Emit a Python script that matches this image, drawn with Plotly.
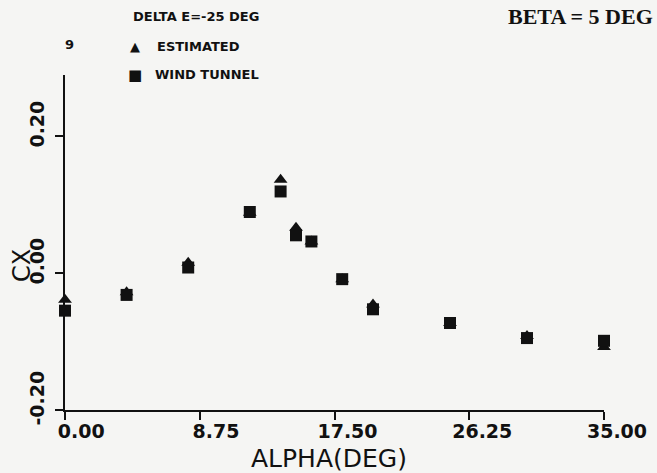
import plotly.graph_objects as go

# ---- data ----
alpha_est = [0, 4, 8, 12, 14, 15, 16, 18, 20, 25, 30, 35]
cx_est = [-0.039, -0.028, 0.015, 0.088, 0.136, 0.066, 0.046, -0.009, -0.046, -0.073, -0.092, -0.108]

alpha_wt = [0, 4, 8, 12, 14, 15, 16, 18, 20, 25, 30, 35]
cx_wt = [-0.055, -0.032, 0.008, 0.089, 0.119, 0.055, 0.046, -0.009, -0.053, -0.073, -0.095, -0.099]

x_tickvals = [0.0, 8.75, 17.5, 26.25, 35.0]
x_ticktext = ["\u00a00.00", "\u00a08.75", "17.50", "26.25", "35.00"]
y_tickvals = [-0.2, 0.0, 0.2]
y_ticktext = ["-0.20", "0.00", "0.20"]

bg = "#f5f5f3"
ink = "#111111"
font_main = "DejaVu Sans"

L, R, T, B = 65, 53, 75, 63
W, H = 657, 473
PW, PH = W - L - R, H - T - B


def px(xp):
    return (xp - L) / PW


def py(yp):
    return (H - B - yp) / PH


fig = go.Figure()
fig.add_trace(go.Scatter(
    x=alpha_est, y=cx_est, mode="markers", name="ESTIMATED",
    marker=dict(symbol="triangle-up", size=12, color=ink, line=dict(width=0)),
    cliponaxis=False, showlegend=False))
fig.add_trace(go.Scatter(
    x=alpha_wt, y=cx_wt, mode="markers", name="WIND TUNNEL",
    marker=dict(symbol="square", size=12, color=ink, line=dict(width=0)),
    cliponaxis=False, showlegend=False))

fig.update_layout(
    width=W, height=H,
    margin=dict(l=L, r=R, t=T, b=B, autoexpand=False),
    paper_bgcolor=bg, plot_bgcolor=bg,
    showlegend=False,
    xaxis=dict(
        range=[0, 35], showgrid=False, zeroline=False, automargin=False,
        showline=True, linecolor=ink, linewidth=2,
        ticks="outside", ticklen=8, tickwidth=2, tickcolor=ink,
        tickvals=x_tickvals, ticktext=x_ticktext,
        tickfont=dict(family=font_main, size=19, color=ink, weight="bold"),
        ticklabelshift=13, ticklabelstandoff=-5,
    ),
    yaxis=dict(
        range=[-0.2, 0.289], showgrid=False, zeroline=False, automargin=False,
        showline=True, linecolor=ink, linewidth=2,
        ticks="outside", ticklen=8, tickwidth=2, tickcolor=ink,
        tickvals=y_tickvals, ticktext=y_ticktext, tickangle=-90,
        tickfont=dict(family=font_main, size=19, color=ink, weight="bold"),
        ticklabelshift=-9, ticklabelstandoff=3,
    ),
    annotations=[
        dict(text="ALPHA(DEG)", xref="paper", yref="paper",
             x=px(329), y=py(458), xanchor="center", yanchor="middle",
             showarrow=False, font=dict(family=font_main, size=25, color=ink)),
        dict(text="CX", textangle=-90, xref="paper", yref="paper",
             x=px(22), y=py(266), xanchor="center", yanchor="middle",
             showarrow=False, font=dict(family=font_main, size=24, color=ink)),
        dict(text="<b>DELTA E=-25 DEG</b>", xref="paper", yref="paper",
             x=px(131), y=py(17), xanchor="left", yanchor="middle",
             showarrow=False, font=dict(family=font_main, size=13, color=ink)),
        dict(text="<b>9</b>", xref="paper", yref="paper",
             x=px(69), y=py(44), xanchor="center", yanchor="middle",
             showarrow=False, font=dict(family=font_main, size=13, color=ink)),
        dict(text="▲", xref="paper", yref="paper",
             x=px(135), y=py(46), xanchor="center", yanchor="middle",
             showarrow=False, font=dict(family=font_main, size=13, color=ink)),
        dict(text="<b>ESTIMATED</b>", xref="paper", yref="paper",
             x=px(155), y=py(46), xanchor="left", yanchor="middle",
             showarrow=False, font=dict(family=font_main, size=13, color=ink)),
        dict(text="■", xref="paper", yref="paper",
             x=px(135), y=py(75), xanchor="center", yanchor="middle",
             showarrow=False, font=dict(family=font_main, size=15, color=ink)),
        dict(text="<b>WIND TUNNEL</b>", xref="paper", yref="paper",
             x=px(153), y=py(74), xanchor="left", yanchor="middle",
             showarrow=False, font=dict(family=font_main, size=13, color=ink)),
        dict(text="<b>BETA = 5 DEG</b>", xref="paper", yref="paper",
             x=px(655), y=py(16), xanchor="right", yanchor="middle",
             showarrow=False, font=dict(family="Liberation Serif", size=22, color=ink)),
    ],
)

fig.write_html(
    "out.html",
    config={"displayModeBar": False},
    post_script="document.body.style.margin='0';document.body.style.background='#f5f5f3';",
)
